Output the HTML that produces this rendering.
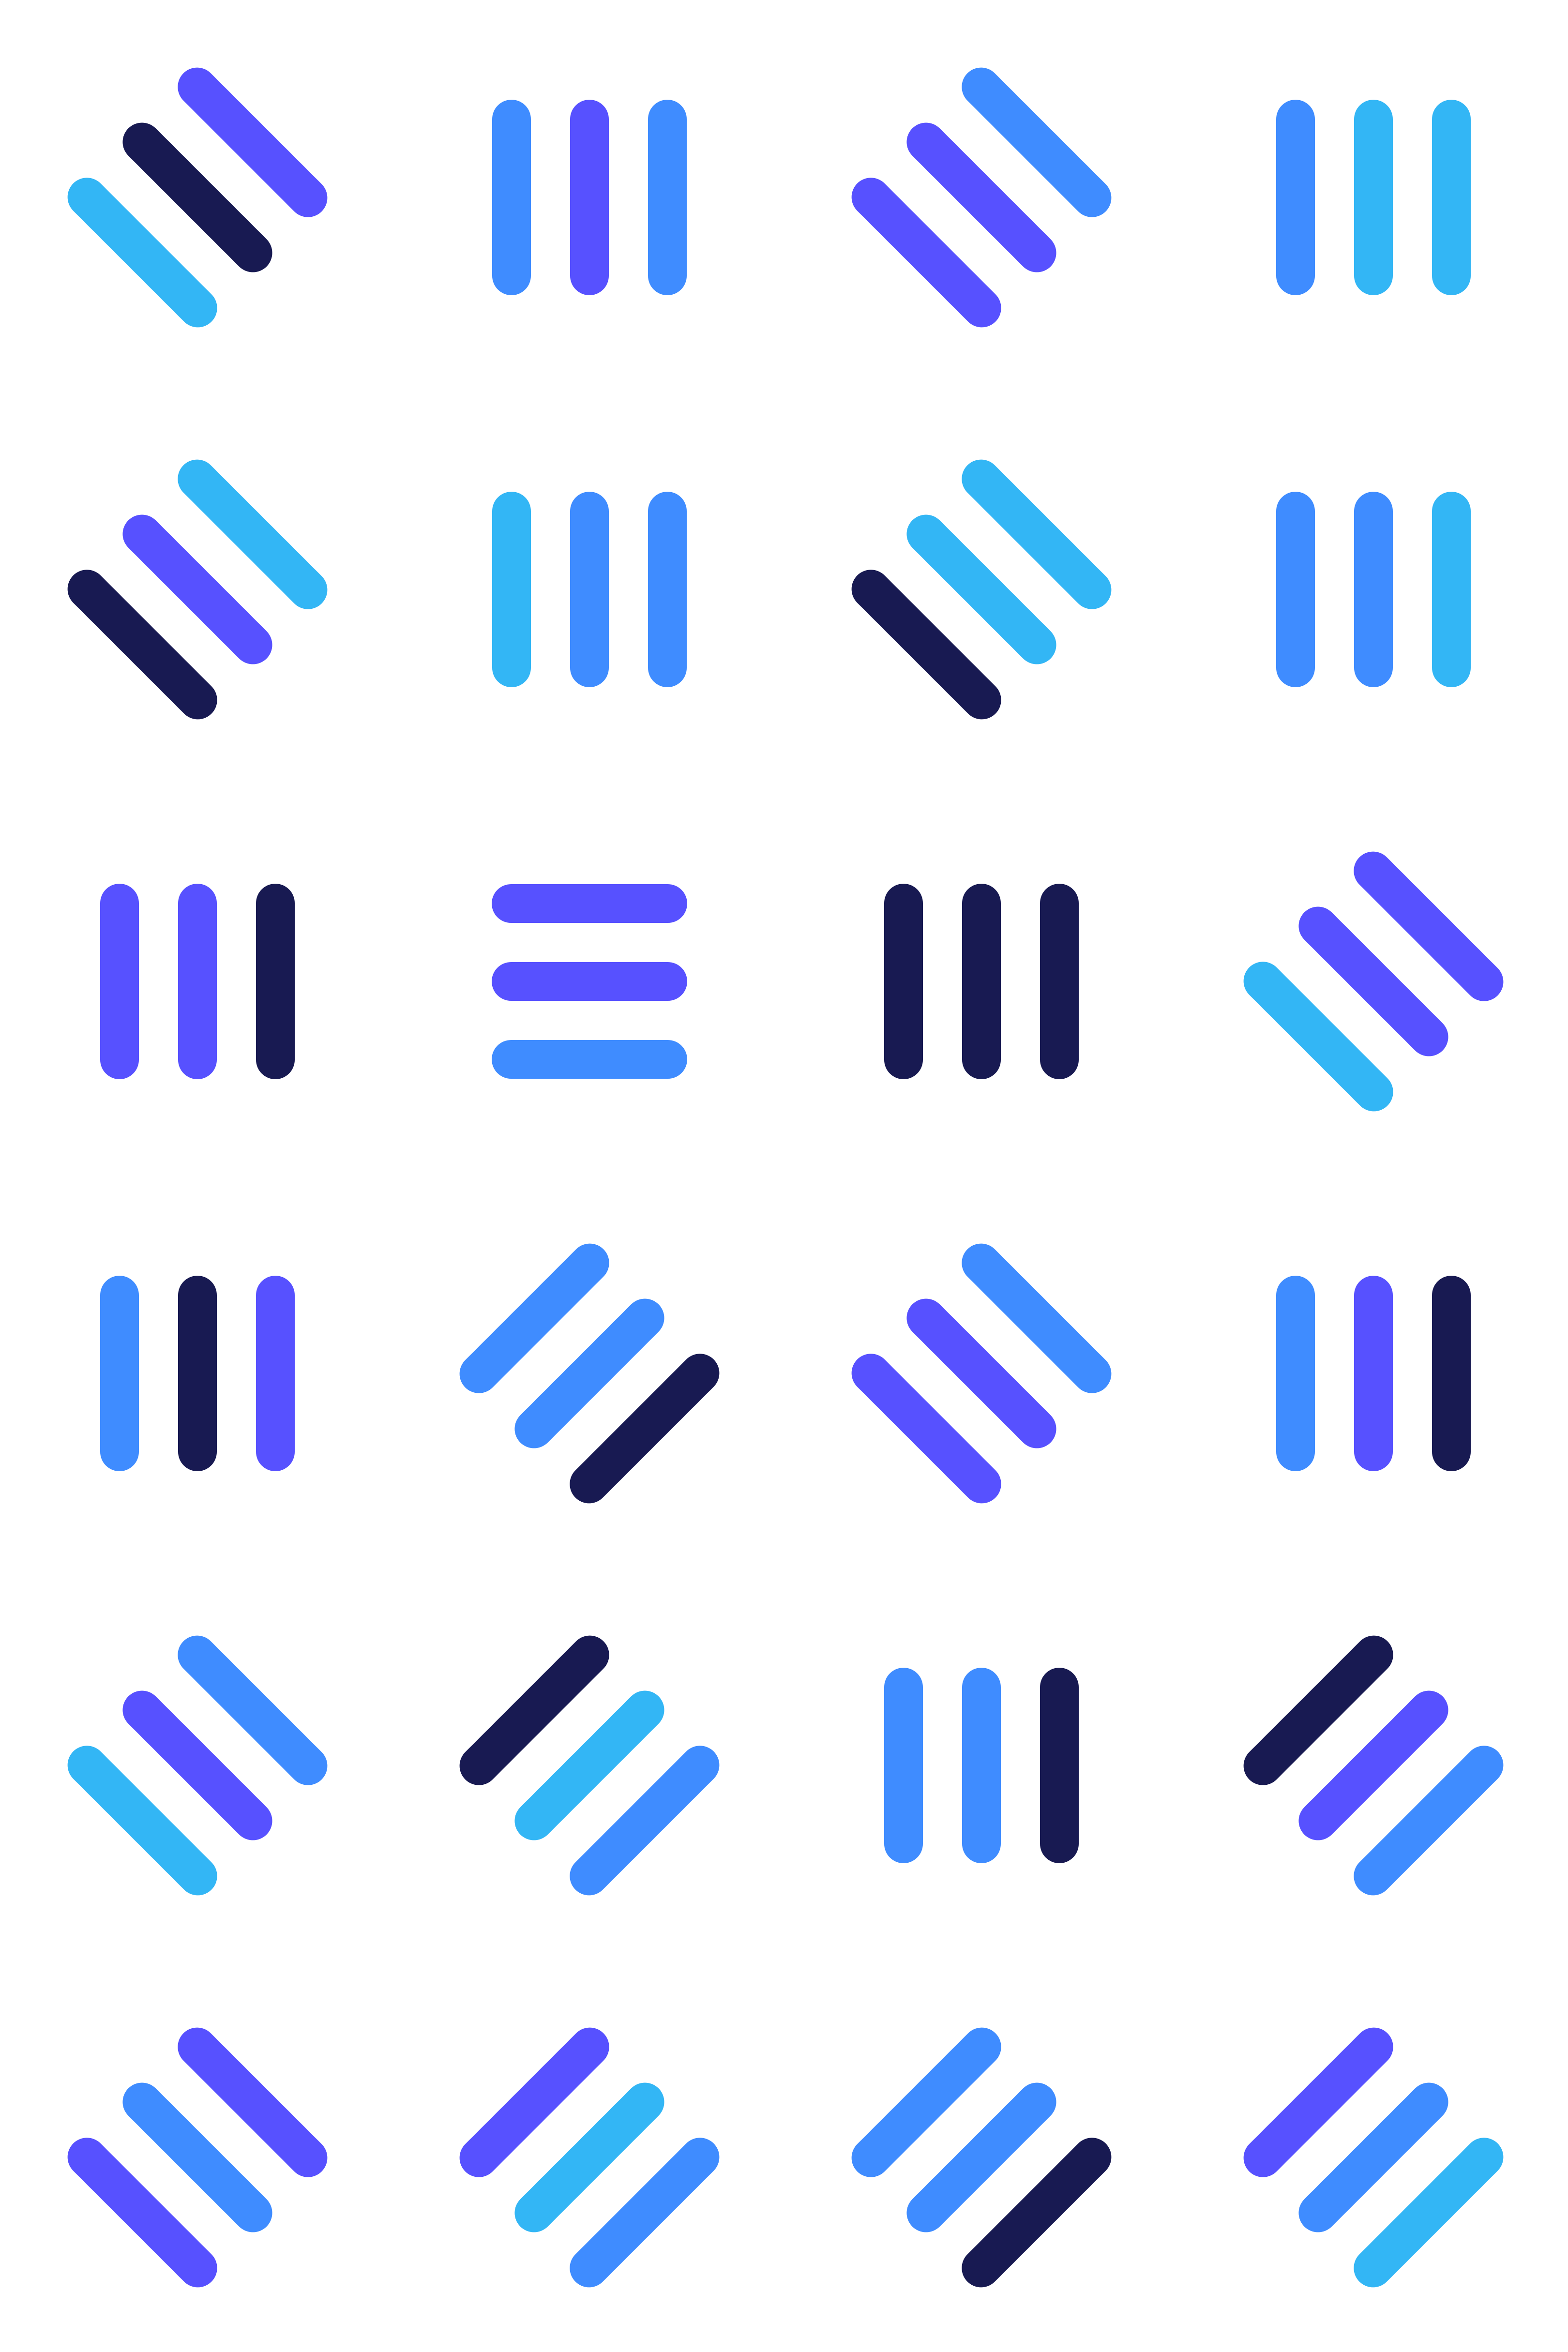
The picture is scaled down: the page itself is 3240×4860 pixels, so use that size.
<!DOCTYPE html>
<html><head><meta charset="utf-8"><style>html,body{margin:0;padding:0;background:#fff}svg{display:block}</style></head>
<body>
<svg id="art" width="3240" height="4860" viewBox="0 0 3240 4860" xmlns="http://www.w3.org/2000/svg">
<rect width="3240" height="4860" fill="#ffffff"/>
</svg>
<script>
// orientation per cell: V vertical, H horizontal, B backslash "\", S slash "/"
const orientations = [
 "B","V","B","V",
 "B","V","B","V",
 "V","H","V","B",
 "V","S","B","V",
 "B","S","V","S",
 "B","S","S","S"
];
// color keys per cell (ordered: V left->right, H top->bottom, B upper-right->lower-left, S upper-left->lower-right)
const colorKeys = [
 ["i","d","c"],["b","i","b"],["b","i","i"],["b","c","c"],
 ["c","i","d"],["c","b","b"],["c","c","d"],["b","b","c"],
 ["i","i","d"],["i","i","b"],["d","d","d"],["i","i","c"],
 ["b","d","i"],["b","b","d"],["b","i","i"],["b","i","d"],
 ["b","i","c"],["d","c","b"],["b","b","d"],["d","i","b"],
 ["i","b","i"],["i","c","b"],["b","b","d"],["i","b","c"]
];
const palette = {d:"#181a52", i:"#5751ff", b:"#3f8cff", c:"#33b6f5"};
const cols = 4, cell = 810, half = 162, gap = 161, sw = 80, shift = 3;
const svg = document.getElementById('art');
const NS = "http://www.w3.org/2000/svg";
orientations.forEach((o, idx) => {
  const cx = (idx % cols) * cell + cell/2 + shift, cy = Math.floor(idx / cols) * cell + cell/2 + shift;
  let off, dir;
  const r = Math.SQRT1_2;
  if (o === "V") { off = [1,0]; dir = [0,1]; }
  else if (o === "H") { off = [0,1]; dir = [1,0]; }
  else if (o === "B") { off = [-r,r]; dir = [r,r]; }
  else { off = [r,r]; dir = [r,-r]; }
  const g = document.createElementNS(NS, "g");
  
  
  svg.appendChild(g);
  colorKeys[idx].forEach((k, j) => {
    const t = (j - 1) * gap;
    const mx = cx + off[0]*t, my = cy + off[1]*t;
    const ln = document.createElementNS(NS, "line");
    ln.setAttribute("x1", mx - dir[0]*half); ln.setAttribute("y1", my - dir[1]*half);
    ln.setAttribute("x2", mx + dir[0]*half); ln.setAttribute("y2", my + dir[1]*half);
    ln.setAttribute("stroke", palette[k]); ln.setAttribute("stroke-width", sw);
    ln.setAttribute("stroke-linecap", "round");
    
    
    g.appendChild(ln);
  });
});
</script>
</body></html>
